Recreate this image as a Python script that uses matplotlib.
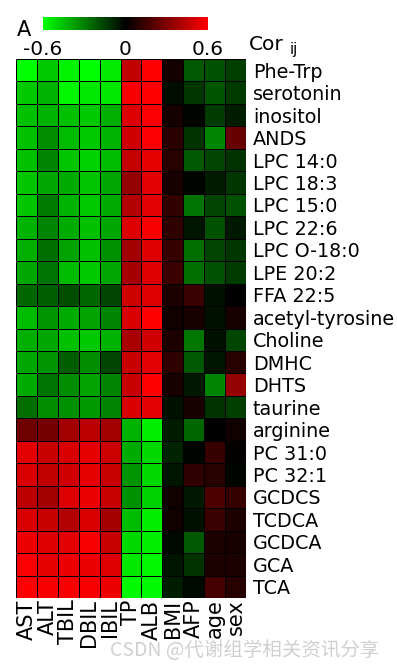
import numpy as np
import matplotlib
matplotlib.use("Agg")
import matplotlib.pyplot as plt
from matplotlib.colors import LinearSegmentedColormap

# metabolites (rows) and clinical variables (columns)
metabolites = ["Phe-Trp", "serotonin", "inositol", "ANDS", "LPC 14:0", "LPC 18:3",
               "LPC 15:0", "LPC 22:6", "LPC O-18:0", "LPE 20:2", "FFA 22:5",
               "acetyl-tyrosine", "Choline", "DMHC", "DHTS", "taurine", "arginine",
               "PC 31:0", "PC 32:1", "GCDCS", "TCDCA", "GCDCA", "GCA", "TCA"]
variables = ["AST", "ALT", "TBIL", "DBIL", "IBIL", "TP", "ALB", "BMI", "AFP", "age", "sex"]

# correlation values, one list per clinical variable (top to bottom)
ast = [-0.60, -0.47, -0.45, -0.45, -0.45, -0.46, -0.46, -0.42, -0.41, -0.39, -0.24, -0.44,
       -0.41, -0.39, -0.40, -0.26, 0.26, 0.53, 0.51, 0.44, 0.51, 0.56, 0.59, 0.60]
alt = [-0.47, -0.42, -0.42, -0.33, -0.31, -0.39, -0.29, -0.31, -0.26, -0.27, -0.22, -0.35,
       -0.39, -0.35, -0.27, -0.33, 0.28, 0.47, 0.45, 0.38, 0.47, 0.52, 0.54, 0.58]
tbil = [-0.57, -0.58, -0.45, -0.44, -0.46, -0.40, -0.42, -0.40, -0.38, -0.44, -0.18, -0.40,
        -0.45, -0.22, -0.33, -0.34, 0.38, 0.51, 0.49, 0.52, 0.42, 0.53, 0.56, 0.58]
dbil = [-0.60, -0.54, -0.47, -0.47, -0.49, -0.46, -0.47, -0.45, -0.45, -0.47, -0.24, -0.38,
        -0.47, -0.33, -0.38, -0.36, 0.44, 0.54, 0.54, 0.56, 0.51, 0.58, 0.56, 0.58]
ibil = [-0.55, -0.54, -0.41, -0.42, -0.44, -0.39, -0.40, -0.39, -0.34, -0.39, -0.16, -0.31,
        -0.42, -0.16, -0.31, -0.31, 0.38, 0.48, 0.47, 0.47, 0.39, 0.47, 0.52, 0.56]
tp = [0.45, 0.58, 0.52, 0.49, 0.46, 0.35, 0.42, 0.52, 0.38, 0.39, 0.48, 0.51,
      0.40, 0.47, 0.47, 0.51, -0.42, -0.40, -0.35, -0.34, -0.44, -0.51, -0.54, -0.59]
alb = [0.60, 0.60, 0.59, 0.59, 0.54, 0.53, 0.53, 0.58, 0.52, 0.52, 0.52, 0.60,
       0.49, 0.53, 0.60, 0.53, -0.56, -0.51, -0.51, -0.49, -0.56, -0.56, -0.58, -0.59]
bmi = [0.05, -0.03, 0.05, 0.10, 0.09, 0.06, 0.12, 0.11, 0.13, 0.14, 0.07, 0.04,
       0.07, 0.11, 0.06, -0.04, -0.07, -0.08, -0.05, 0.04, 0.04, -0.02, -0.05, -0.07]
afp = [-0.21, -0.13, -0.01, -0.12, -0.21, -0.01, -0.27, -0.05, -0.26, -0.26, 0.14, 0.06,
       -0.28, -0.21, -0.06, 0.06, -0.24, -0.01, 0.11, -0.06, -0.04, -0.21, -0.12, -0.02]
age = [-0.19, -0.20, -0.14, -0.31, -0.16, -0.07, -0.16, -0.19, -0.16, -0.19, -0.04, -0.04,
       -0.04, -0.05, -0.31, -0.12, 0.00, 0.13, 0.09, 0.18, 0.14, 0.07, 0.07, 0.16]
sex = [-0.15, -0.14, -0.07, 0.24, -0.12, -0.13, -0.19, -0.06, -0.13, -0.14, 0.00, 0.06,
       -0.16, 0.09, 0.35, -0.15, 0.04, 0.01, -0.01, 0.13, 0.07, 0.06, 0.07, 0.09]

cbar_ticks = [-0.6, 0, 0.6]
cbar_ticklabels = ["-0.6", "0", "0.6"]

data = np.column_stack([ast, alt, tbil, dbil, ibil, tp, alb, bmi, afp, age, sex])

# green - black - red colour scale
cmap = LinearSegmentedColormap.from_list("gkr", [(0, 1, 0), (0, 0, 0), (1, 0, 0)])

fig = plt.figure(figsize=(3.97, 6.67), dpi=100)

# heatmap
ax = fig.add_axes([16 / 397, 69 / 667, 230 / 397, 539 / 667])
mesh = ax.pcolormesh(data, cmap=cmap, vmin=-0.6, vmax=0.6,
                     edgecolors="black", linewidth=0.55)
ax.set_xlim(0, len(variables))
ax.set_ylim(len(metabolites), 0)
for s in ax.spines.values():
    s.set_visible(False)

ax.set_xticks(np.arange(len(variables)) + 0.5)
ax.set_xticklabels(variables, rotation=90, fontsize=15)
ax.set_yticks(np.arange(len(metabolites)) + 0.5)
ax.set_yticklabels(metabolites, fontsize=13.8)
ax.yaxis.tick_right()
ax.tick_params(axis="y", length=0, pad=5)
ax.tick_params(axis="x", length=0, pad=1)

# colour bar on top
cax = fig.add_axes([43 / 397, 637 / 667, 165 / 397, 13 / 667])
cb = fig.colorbar(mesh, cax=cax, orientation="horizontal", ticks=cbar_ticks)
cb.outline.set_visible(False)
cb.set_ticklabels(cbar_ticklabels)
cax.tick_params(length=0, labelsize=14.5, pad=7)

fig.text(17 / 397, 1 - 36 / 667, "A", fontsize=15)
fig.text(249 / 397, 1 - 50 / 667, "Cor", fontsize=14.5)
fig.text(290 / 397, 1 - 54 / 667, "ij", fontsize=10.5)

# watermark
fig.text(110 / 397, 1 - 656 / 667, "CSDN @代谢组学相关资讯分享", fontsize=14,
         color="#c8c8c8", alpha=0.85, family=["Noto Sans CJK SC", "DejaVu Sans"])

fig.savefig("out.png", dpi=100)
